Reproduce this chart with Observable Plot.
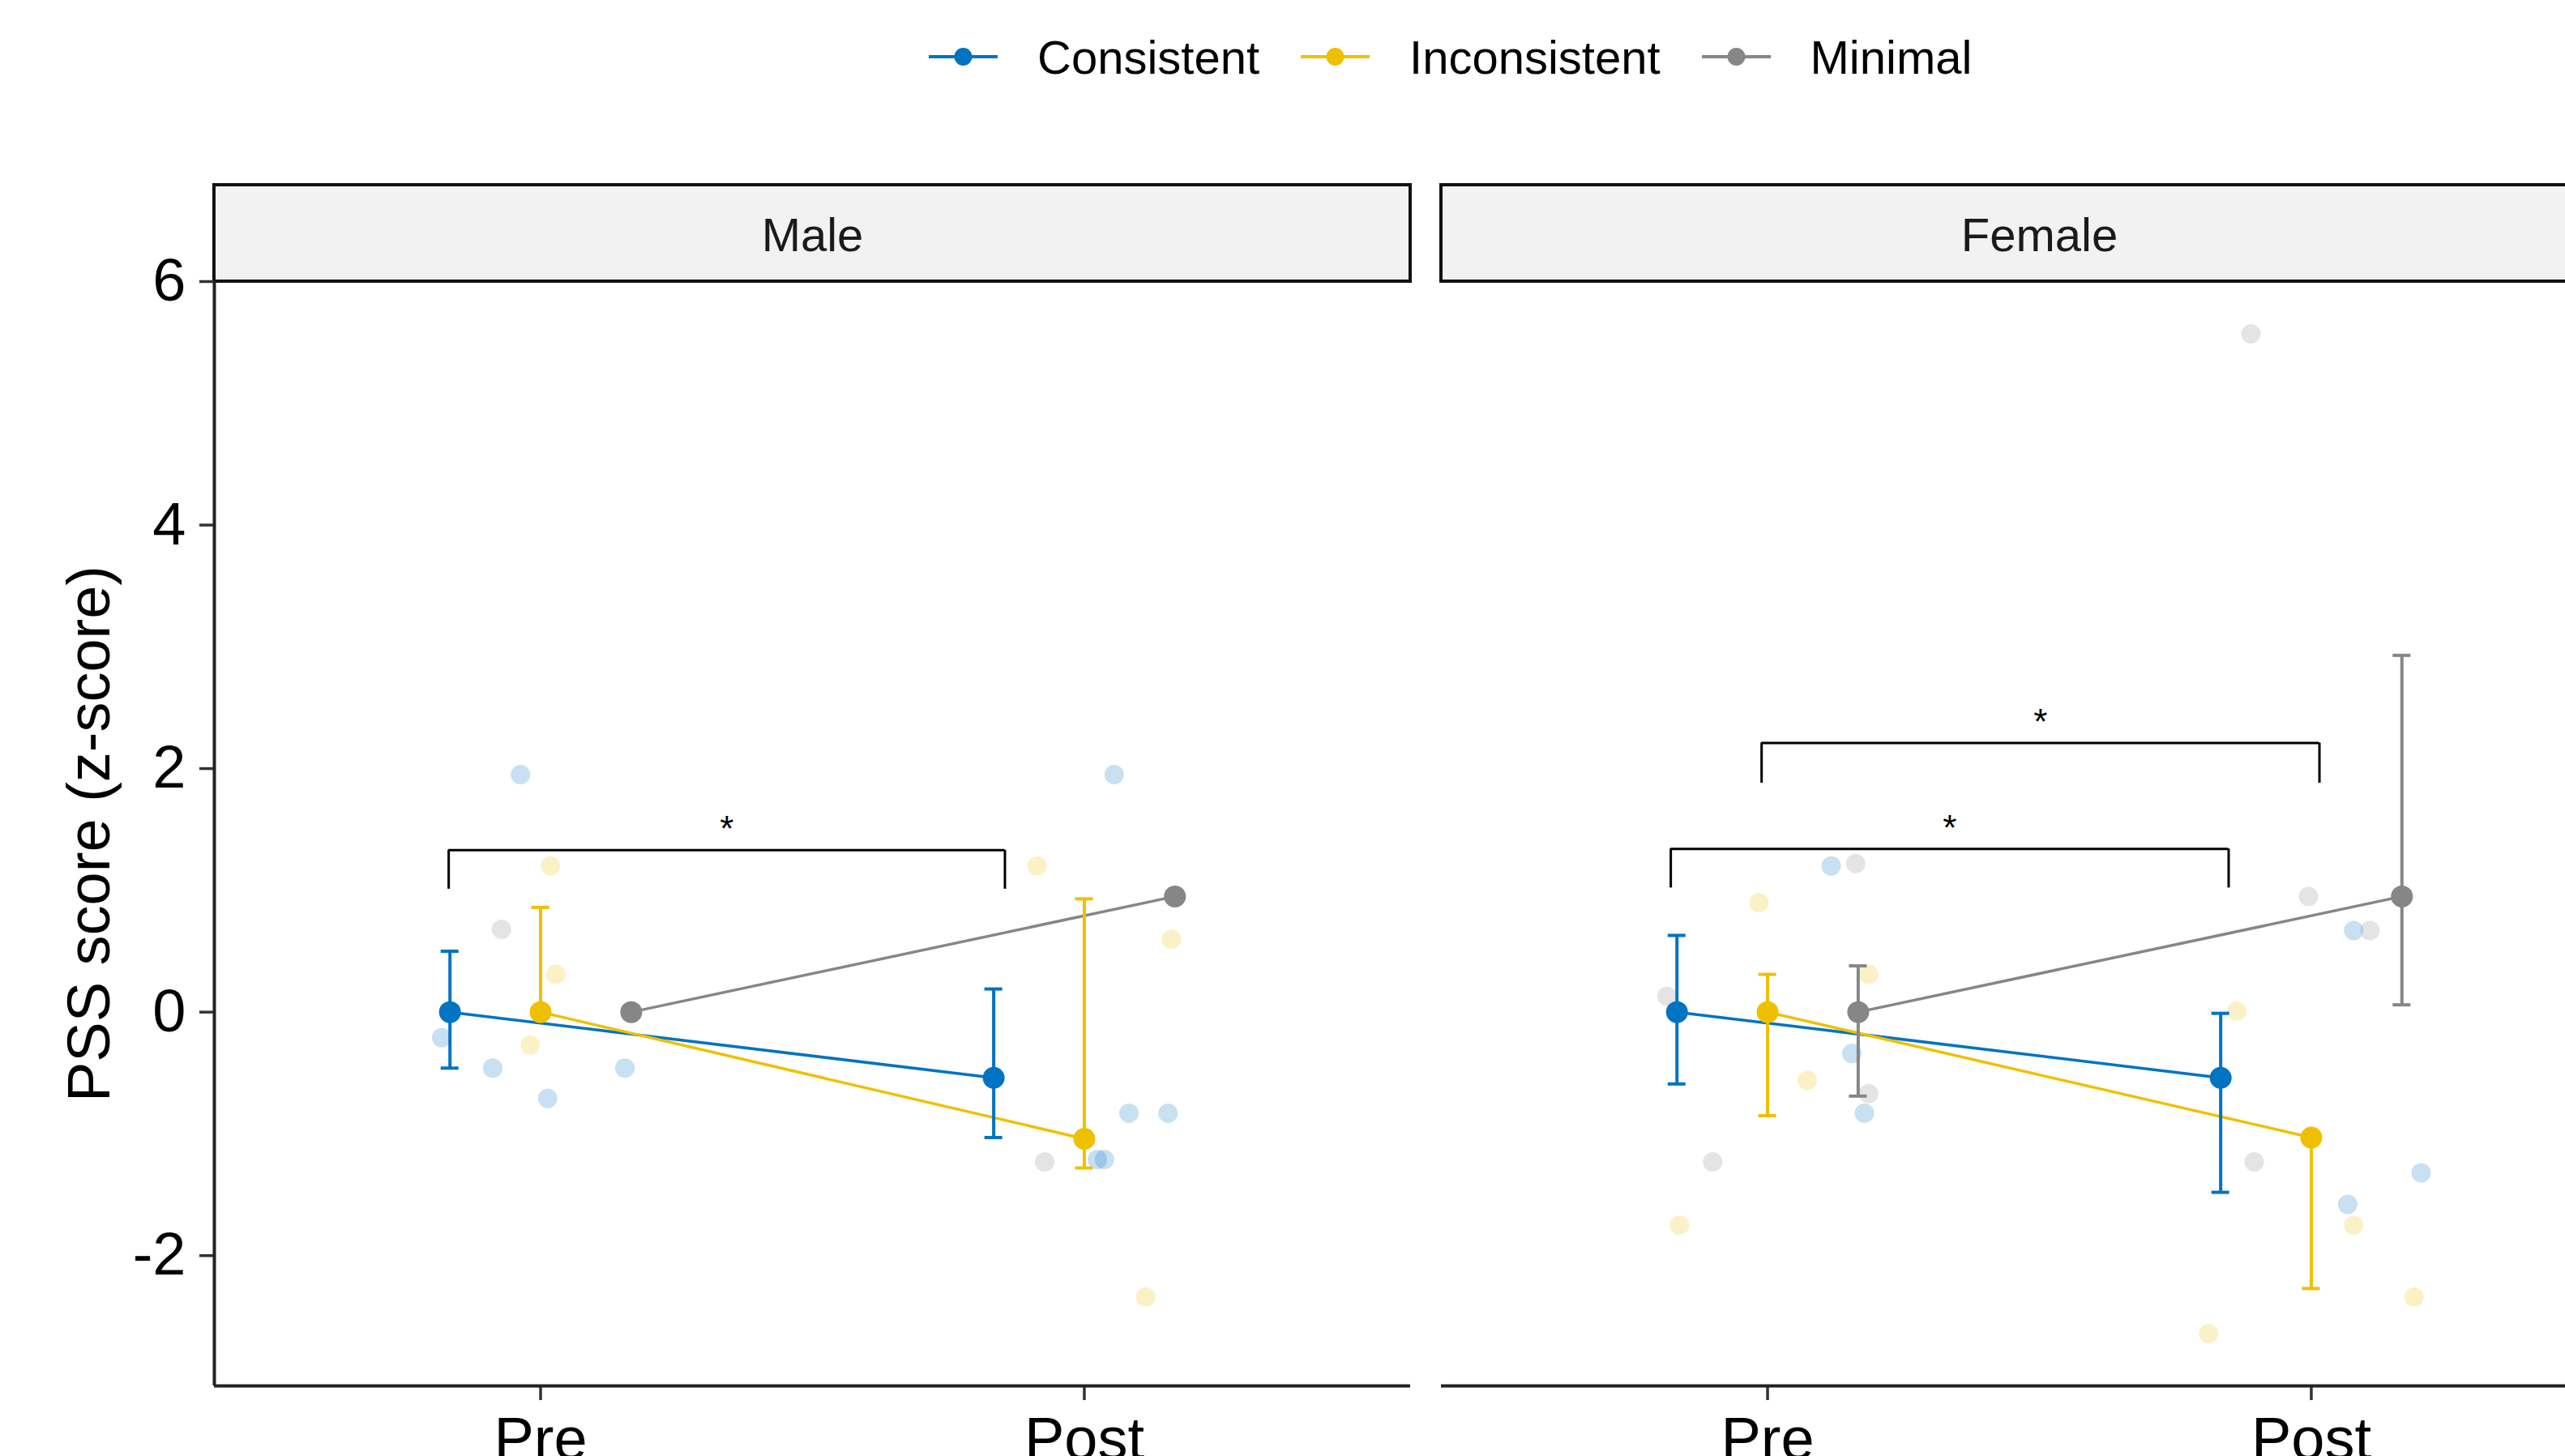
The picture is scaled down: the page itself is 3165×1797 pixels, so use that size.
<!DOCTYPE html>
<html>
<head>
<meta charset="utf-8">
<script src="https://cdn.jsdelivr.net/npm/d3@7"></script>
<script src="https://cdn.jsdelivr.net/npm/@observablehq/plot@0.6"></script>
<style>
  html, body { margin: 0; padding: 0; background: #fff; overflow: hidden; width: 3165px; height: 1797px; }
  body { font-family: "Liberation Sans", Arial, sans-serif; }
  #legend { height: 140px; display: flex; align-items: center; padding-left: 1146px; box-sizing: border-box; }
  .key { display: block; }
  .lab { font-size: 58px; color: #000; margin-left: 49px; margin-right: 51px; white-space: nowrap; }
  #chart { width: 3264px; }
  #chart svg { overflow: visible; max-width: none !important; display: block; }
</style>
</head>
<body>
<div id="legend"></div>
<div id="chart"></div>
<script>
// ---------------- data ----------------
const sexes = ["Male", "Female"];
const times = ["Pre", "Post"];
const groups = ["Consistent", "Inconsistent", "Minimal"];
const groupColors = ["#0073C2", "#EFC000", "#868686"];
const yTicks = [-2, 0, 2, 4, 6];
const yLabel = "PSS score (z-score)";

// group means: [sex, group, time, mean, lower, upper]  (null = no error bar)
const meanRows = [
  ["Male", "Consistent", "Pre", 0, -0.46, 0.50],
  ["Male", "Consistent", "Post", -0.54, -1.03, 0.19],
  ["Male", "Inconsistent", "Pre", 0, 0, 0.86],
  ["Male", "Inconsistent", "Post", -1.04, -1.28, 0.93],
  ["Male", "Minimal", "Pre", 0, null, null],
  ["Male", "Minimal", "Post", 0.95, null, null],
  ["Female", "Consistent", "Pre", 0, -0.59, 0.63],
  ["Female", "Consistent", "Post", -0.54, -1.48, -0.01],
  ["Female", "Inconsistent", "Pre", 0, -0.85, 0.31],
  ["Female", "Inconsistent", "Post", -1.03, -2.27, -1.03],
  ["Female", "Minimal", "Pre", 0, -0.69, 0.38],
  ["Female", "Minimal", "Post", 0.95, 0.06, 2.93]
];

// individual scores: [group, time, jitter (category units), value]
const maleObs = [
  ["Consistent", "Pre", -0.037, 1.95], ["Consistent", "Pre", -0.182, -0.21], ["Consistent", "Pre", -0.088, -0.46],
  ["Consistent", "Pre", 0.013, -0.71], ["Consistent", "Pre", 0.155, -0.46],
  ["Consistent", "Post", 0.055, 1.95], ["Consistent", "Post", 0.082, -0.83], ["Consistent", "Post", 0.154, -0.83],
  ["Consistent", "Post", 0.024, -1.21], ["Consistent", "Post", 0.037, -1.21],
  ["Inconsistent", "Pre", 0.018, 1.2], ["Inconsistent", "Pre", 0.028, 0.31], ["Inconsistent", "Pre", -0.019, -0.27],
  ["Inconsistent", "Post", -0.087, 1.2], ["Inconsistent", "Post", 0.16, 0.6], ["Inconsistent", "Post", 0.113, -2.34],
  ["Minimal", "Pre", -0.072, 0.68],
  ["Minimal", "Post", -0.073, -1.23]
];
const femaleObs = [
  ["Consistent", "Pre", 0.117, 1.20], ["Consistent", "Pre", 0.155, -0.34], ["Consistent", "Pre", 0.178, -0.83],
  ["Consistent", "Post", 0.078, 0.67], ["Consistent", "Post", 0.067, -1.58], ["Consistent", "Post", 0.202, -1.32],
  ["Inconsistent", "Pre", -0.016, 0.90], ["Inconsistent", "Pre", 0.186, 0.31], ["Inconsistent", "Pre", 0.073, -0.56],
  ["Inconsistent", "Pre", -0.162, -1.75],
  ["Inconsistent", "Post", -0.137, 0.01], ["Inconsistent", "Post", 0.078, -1.75], ["Inconsistent", "Post", 0.189, -2.34],
  ["Inconsistent", "Post", -0.189, -2.64],
  ["Minimal", "Pre", 0.162, 1.22], ["Minimal", "Pre", -0.185, 0.13], ["Minimal", "Pre", 0.186, -0.67],
  ["Minimal", "Pre", -0.101, -1.23],
  ["Minimal", "Post", -0.111, 5.57], ["Minimal", "Post", -0.005, 0.95], ["Minimal", "Post", 0.108, 0.67],
  ["Minimal", "Post", -0.105, -1.23]
];

// significance brackets: [sex, xStart, xEnd, yTop, yLeg, label]
const brackets = [
  ["Male", 0.831, 1.854, 1.33, 1.01, "*"],
  ["Female", 0.822, 1.848, 1.34, 1.02, "*"],
  ["Female", 0.989, 2.015, 2.21, 1.88, "*"]
];

// ---------------- derived tables ----------------
const dodgeWidth = 1 / 6;
const timePos = t => times.indexOf(t) + 1;
const means = meanRows.map(([sex, group, time, mean, lo, hi]) => ({
  sex, group, time, mean, lo, hi,
  x: timePos(time) + (groups.indexOf(group) - 1) * dodgeWidth
}));
const errs = means.filter(d => d.lo !== null);
const obs = [
  ...maleObs.map(r => ({sex: "Male", group: r[0], time: r[1], jit: r[2], value: r[3]})),
  ...femaleObs.map(r => ({sex: "Female", group: r[0], time: r[1], jit: r[2], value: r[3]}))
];
const br = brackets.map(([sex, x1, x2, top, leg, label]) => ({sex, x1, x2, top, leg, label}));

// ---------------- legend ----------------
const legend = d3.select("#legend");
groups.forEach((g, i) => {
  const s = legend.append("svg").attr("class", "key").attr("width", 85).attr("height", 40);
  s.append("line").attr("x1", 0).attr("x2", 85).attr("y1", 20).attr("y2", 20)
    .attr("stroke", groupColors[i]).attr("stroke-width", 4);
  s.append("circle").attr("cx", 42.5).attr("cy", 20).attr("r", 11).attr("fill", groupColors[i]);
  legend.append("span").attr("class", "lab").text(g);
});

// ---------------- chart ----------------
const yDomain = [-3.07, 6.0];
const xDomain = [0.4, 2.6];
const ink = "#000";
const hyphenMinus = d => (d < 0 ? "-" + Math.abs(d) : String(d));

const chart = Plot.plot({
  width: 3264,
  height: 1680,
  marginLeft: 264,
  marginRight: 10,
  marginTop: 207,
  marginBottom: 110,
  style: {fontFamily: "'Liberation Sans', Arial, sans-serif", background: "transparent", overflow: "visible", maxWidth: "none"},
  fx: {domain: sexes, paddingInner: 38 / 1514, paddingOuter: 0, axis: null, label: null},
  x: {domain: xDomain, label: null},
  y: {domain: yDomain, label: null},
  color: {domain: groups, range: groupColors},
  marks: [
    // facet strips
    Plot.rect(sexes, {fx: d => d, y1: () => yDomain[1], y2: () => yDomain[1], insetTop: -119,
      fill: "#f2f2f2", stroke: "#111", strokeWidth: 4}),
    Plot.text(sexes, {fx: d => d, text: d => d, frameAnchor: "top", lineAnchor: "middle", dy: -56,
      fontSize: 58, fill: "#1a1a1a"}),
    // axes
    Plot.axisY({ticks: yTicks, tickFormat: hyphenMinus, tickSize: 18, tickPadding: 17, fontSize: 74,
      stroke: "#333", strokeWidth: 3.5, fill: ink}),
    Plot.axisX({ticks: [1, 2], tickFormat: d => times[d - 1], tickSize: 18, tickPadding: 20, fontSize: 74,
      stroke: "#333", strokeWidth: 3.5, fill: ink}),
    Plot.ruleY([0], {y: () => yDomain[0], stroke: "#222", strokeWidth: 4}),
    Plot.ruleX(["Male"], {fx: d => d, x: () => xDomain[0], stroke: "#222", strokeWidth: 4}),
    Plot.text([yLabel], {fx: () => "Male", text: d => d, frameAnchor: "left", textAnchor: "middle",
      lineAnchor: "middle", rotate: -90, dx: -153, fontSize: 74, fill: ink}),
    // individual scores
    Plot.dot(obs, {fx: "sex", x: d => timePos(d.time) + d.jit, y: "value", fill: "group",
      fillOpacity: 0.22, r: 12}),
    // mean lines
    Plot.line(means, {fx: "sex", x: "x", y: "mean", z: d => d.sex + d.group, stroke: "group", strokeWidth: 3.5}),
    // error bars
    Plot.ruleX(errs, {fx: "sex", x: "x", y1: "lo", y2: "hi", stroke: "group", strokeWidth: 4}),
    Plot.ruleY(errs, {fx: "sex", x1: "x", x2: "x", y: "lo", insetLeft: -11, insetRight: -11, stroke: "group", strokeWidth: 4}),
    Plot.ruleY(errs, {fx: "sex", x1: "x", x2: "x", y: "hi", insetLeft: -11, insetRight: -11, stroke: "group", strokeWidth: 4}),
    // means
    Plot.dot(means, {fx: "sex", x: "x", y: "mean", fill: "group", r: 13.5}),
    // significance brackets
    Plot.ruleY(br, {fx: "sex", x1: "x1", x2: "x2", y: "top", stroke: "#000", strokeWidth: 3}),
    Plot.ruleX(br, {fx: "sex", x: "x1", y1: "leg", y2: "top", stroke: "#000", strokeWidth: 3}),
    Plot.ruleX(br, {fx: "sex", x: "x2", y1: "leg", y2: "top", stroke: "#000", strokeWidth: 3}),
    Plot.text(br, {fx: "sex", x: d => (d.x1 + d.x2) / 2, y: "top", text: "label", dy: -25, fontSize: 44, fill: "#000"})
  ]
});
document.getElementById("chart").appendChild(chart);
</script>
</body>
</html>
